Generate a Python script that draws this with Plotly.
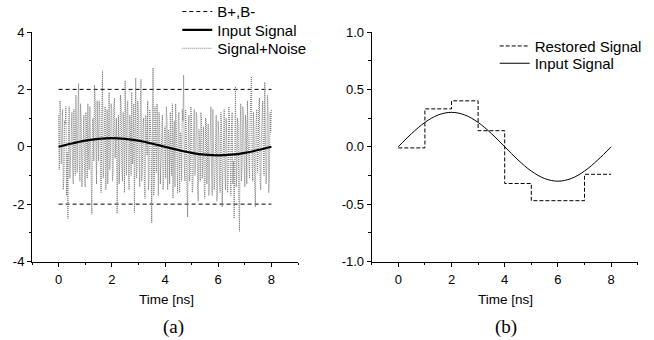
import plotly.graph_objects as go

# ---------------- data ----------------
# (a) noisy signal samples, step 0.025 ns: values at 0, 0.05, ... (a) and at 0.025, 0.075, ... (b)
noise_a = [
    1.1, 1.6, -0.6, 1.3, -1.1, 0.8, -1.7, -2.5, 1.4, -0.4, 1.2, -1.3, 0.5, 1.8, -0.9, 2.2, -1.2, 0.9, -0.3, 1.1,
    -1.4, 0.7, 1.5, -0.8, 0.3, -2.35, 1.0, 2.15, -1.0, 1.6, -0.5, 1.2, -1.6, 2.65, -0.7, 1.4, 0.2, -1.3, 1.9, -0.2,
    1.3, -0.9, 1.7, 0.4, -2.33, 1.1, -0.6, 1.5, -1.2, 0.8, 2.3, -1.0, 1.6, -1.5, 0.6, 1.9, -0.4, -2.3, 2.4, -0.8,
    1.2, -1.4, 2.35, -0.7, 1.0, -1.8, 0.5, 1.6, -1.1, 0.9, -2.65, 2.75, -1.3, 0.4, 1.5, -1.7, 0.8, -0.5, 1.1, -1.2,
    0.7, 1.4, -1.5, 0.3, 1.2, -1.0, -1.8, 0.9, 1.5, -0.6, 1.0, -1.6, 0.4, 1.3, 2.5, -1.2, 0.6, -2.45, 1.1, -0.9,
    0.8, -1.4, 1.3, -0.5, 1.0, -1.9, 0.2, 1.2, -1.1, 0.7, -1.8, 0.9, -0.4, -1.7, 1.1, -0.8, 1.3, -1.5, 0.5, -1.9,
    0.9, -1.2, 1.2, -2.1, 0.3, -0.9, 1.0, -1.6, 1.4, -0.6, 0.7, -1.3, -2.5, 2.1, -1.0, 0.8, -2.95, 1.5, -0.7, 1.1,
    -1.4, 0.6, 1.6, -0.8, 1.0, 2.45, -1.2, 0.5, -2.1, 1.3, -0.3, 1.7, -1.5, 0.9, -0.6, 2.25, -1.3, 1.8, -1.6, 1.2, 1.3,
]
noise_b = [
    -0.8, 1.2, 0.4, -1.5, 0.9, 1.4, -0.2, 0.7, -1.1, 0.9, -0.6, 1.3, -1.0, 0.6, 1.1, -0.5, 1.5, -1.4, 0.8, -0.9,
    1.2, -1.1, -0.3, 1.4, -1.2, 0.9, -0.5, 1.7, -1.3, 0.5, 1.6, -0.9, 1.1, -1.1, 0.8, -1.5, 1.3, 0.4, -0.8, 1.5,
    -1.2, 1.4, -0.4, 1.0, 0.6, -1.3, 1.8, -0.7, 1.2, -1.6, 0.9, 1.3, -0.8, 1.1, -1.0, -0.6, 1.5, 0.3, -1.1, 1.6,
    -0.5, 1.7, -1.2, 0.8, -1.4, 1.1, -0.3, -1.5, 1.3, 0.2, 1.0, -1.7, 1.4, -0.9, 0.6, 1.2, -1.3, 1.0, -1.5, 0.5,
    -1.1, 1.0, 0.6, -1.3, -0.4, 1.5, 0.2, -1.4, 0.7, -1.6, 1.2, 0.5, -1.2, 0.9, -0.7, 1.3, -1.5, 0.4, -1.2, 1.4,
    -1.6, 0.5, -1.0, 1.2, -1.4, 0.6, -1.2, 0.9, -0.4, -1.5, 1.0, -1.3, 0.8, -0.6, 1.4, -1.7, 0.3, -1.0, 1.1, -1.4,
    0.4, -1.6, 0.8, -1.0, 1.3, -1.5, 0.2, -1.1, 0.9, -1.7, 1.2, -0.5, 0.6, -1.4, 1.0, -1.9, 0.7, -1.2, 1.4, -0.6,
    1.1, -1.3, 0.3, -1.1, 1.5, -0.7, 1.2, -1.5, 0.8, -0.9, 1.4, -1.2, 0.4, 1.6, -1.0, 0.7, -0.8, 1.3, -1.1, 0.5,
]
noise_step = 0.025

# input signal samples (ns, amplitude)
sig_t = [0, 0.5, 1, 1.5, 2, 2.5, 3, 3.5, 4, 4.5, 5, 5.5, 6, 6.5, 7, 7.5, 8]
sig_vals = [0, 0.115, 0.212, 0.277, 0.3, 0.277, 0.212, 0.115, 0,
            -0.115, -0.212, -0.277, -0.3, -0.277, -0.212, -0.115, 0]

# thresholds B+, B-
thr_t = [0, 8, None, 0, 8]
thr_vals = [2, 2, None, -2, -2]

# (b) restored signal (piecewise constant per 1 ns)
rest_t = [0, 1, 2, 3, 4, 5, 6, 7, 8]
rest_vals = [-0.01, 0.33, 0.40, 0.14, -0.32, -0.47, -0.47, -0.24, -0.24]

# tick labels
xa_vals = [0, 2, 4, 6, 8]
xa_text = ["0", "2", "4", "6", "8"]
ya_vals = [-4, -2, 0, 2, 4]
ya_text = ["-4", "-2", "0", "2", "4"]
yb_vals = [-1.0, -0.5, 0.0, 0.5, 1.0]
yb_text = ["-1.0", "-0.5", "0.0", "0.5", "1.0"]

# combine noise samples in time order
noise_vals = []
for k in range(len(noise_b)):
    noise_vals.append(noise_a[k])
    noise_vals.append(noise_b[k])
noise_vals.append(noise_a[-1])
noise_t = [round(i * noise_step, 4) for i in range(len(noise_vals))]

# ---------------- figure ----------------
W, H = 654, 340
FONT = "Liberation Sans, Arial, sans-serif"

def px_x(p):
    return p / W

def px_y(p):
    return 1 - p / H

fig = go.Figure()

fig.add_trace(go.Scatter(x=thr_t, y=thr_vals, mode="lines", name="B+,B-",
                         line=dict(color="black", width=1, dash="4px,3px"),
                         xaxis="x", yaxis="y", legend="legend"))
fig.add_trace(go.Scatter(x=noise_t, y=noise_vals, mode="lines", name="Signal+Noise",
                         line=dict(color="#7a7a7a", width=1, dash="1px,1px"),
                         xaxis="x", yaxis="y", legend="legend3"))
fig.add_trace(go.Scatter(x=sig_t, y=sig_vals, mode="lines", name="Input Signal",
                         line=dict(color="black", width=2.2, shape="spline"),
                         xaxis="x", yaxis="y", legend="legend2"))

fig.add_trace(go.Scatter(x=rest_t, y=rest_vals, mode="lines", name="Restored Signal",
                         line=dict(color="black", width=1, dash="4px,2px", shape="hv"),
                         xaxis="x2", yaxis="y2", legend="legend4"))
fig.add_trace(go.Scatter(x=sig_t, y=sig_vals, mode="lines", name="Input Signal",
                         line=dict(color="black", width=1, shape="spline"),
                         xaxis="x2", yaxis="y2", legend="legend5"))

ydom = [px_y(261.5), px_y(32)]

tickfont = dict(family=FONT, size=13, color="black")
axis_common = dict(showline=True, linecolor="black", linewidth=1, ticks="outside",
                   ticklen=4, tickwidth=1, tickcolor="black", showgrid=False,
                   zeroline=False, tickfont=tickfont)

def leg(xp, yp):
    return dict(x=px_x(xp), y=px_y(yp), xanchor="left", yanchor="top",
                bgcolor="rgba(0,0,0,0)", borderwidth=0,
                font=dict(family=FONT, size=15, color="black"))

LEG_OFF = 17.0
LEG_X_OFF = 41

fig.update_layout(
    width=W, height=H,
    margin=dict(l=0, r=0, t=0, b=0, autoexpand=False),
    paper_bgcolor="white", plot_bgcolor="white",
    showlegend=True,
    xaxis=dict(domain=[px_x(32), px_x(298)], range=[-1, 9], anchor="y",
               tickmode="array", tickvals=xa_vals, ticktext=xa_text, ticklabelstandoff=2,
               minor=dict(dtick=1, tick0=-1, ticklen=2.5, ticks="outside", tickcolor="black"),
               **axis_common),
    yaxis=dict(domain=ydom, range=[-4, 4], anchor="x",
               tickmode="array", tickvals=ya_vals, ticktext=ya_text,
               minor=dict(dtick=1, tick0=-4, ticklen=2.5, ticks="outside", tickcolor="black"),
               **axis_common),
    xaxis2=dict(domain=[px_x(371.7), px_x(637.7)], range=[-1, 9], anchor="y2",
                tickmode="array", tickvals=xa_vals, ticktext=xa_text, ticklabelstandoff=2,
                minor=dict(dtick=1, tick0=-1, ticklen=2.5, ticks="outside", tickcolor="black"),
                **axis_common),
    yaxis2=dict(domain=ydom, range=[-1, 1], anchor="x2",
                tickmode="array", tickvals=yb_vals, ticktext=yb_text,
                minor=dict(dtick=0.25, tick0=-1, ticklen=2.5, ticks="outside", tickcolor="black"),
                **axis_common),
    legend=leg(218.3 - LEG_X_OFF, 12.3 - LEG_OFF),
    legend2=leg(218.3 - LEG_X_OFF, 30.7 - LEG_OFF),
    legend3=leg(218.3 - LEG_X_OFF, 49.0 - LEG_OFF),
    legend4=leg(535.7 - LEG_X_OFF, 46.7 - LEG_OFF),
    legend5=leg(535.7 - LEG_X_OFF, 64.0 - LEG_OFF),
)

ann_font = dict(family=FONT, size=13.5, color="black")
serif = dict(family="Liberation Serif, Times New Roman, serif", size=19, color="black")
fig.add_annotation(text="Time [ns]", x=px_x(166.7), y=px_y(299.5), xref="paper", yref="paper",
                   showarrow=False, font=ann_font, xanchor="center", yanchor="middle")
fig.add_annotation(text="Time [ns]", x=px_x(505.3), y=px_y(299.5), xref="paper", yref="paper",
                   showarrow=False, font=ann_font, xanchor="center", yanchor="middle")
fig.add_annotation(text="(a)", x=px_x(173), y=px_y(327), xref="paper", yref="paper",
                   showarrow=False, font=serif, xanchor="center", yanchor="middle")
fig.add_annotation(text="(b)", x=px_x(505.7), y=px_y(327), xref="paper", yref="paper",
                   showarrow=False, font=serif, xanchor="center", yanchor="middle")

fig.write_html("out.html")
